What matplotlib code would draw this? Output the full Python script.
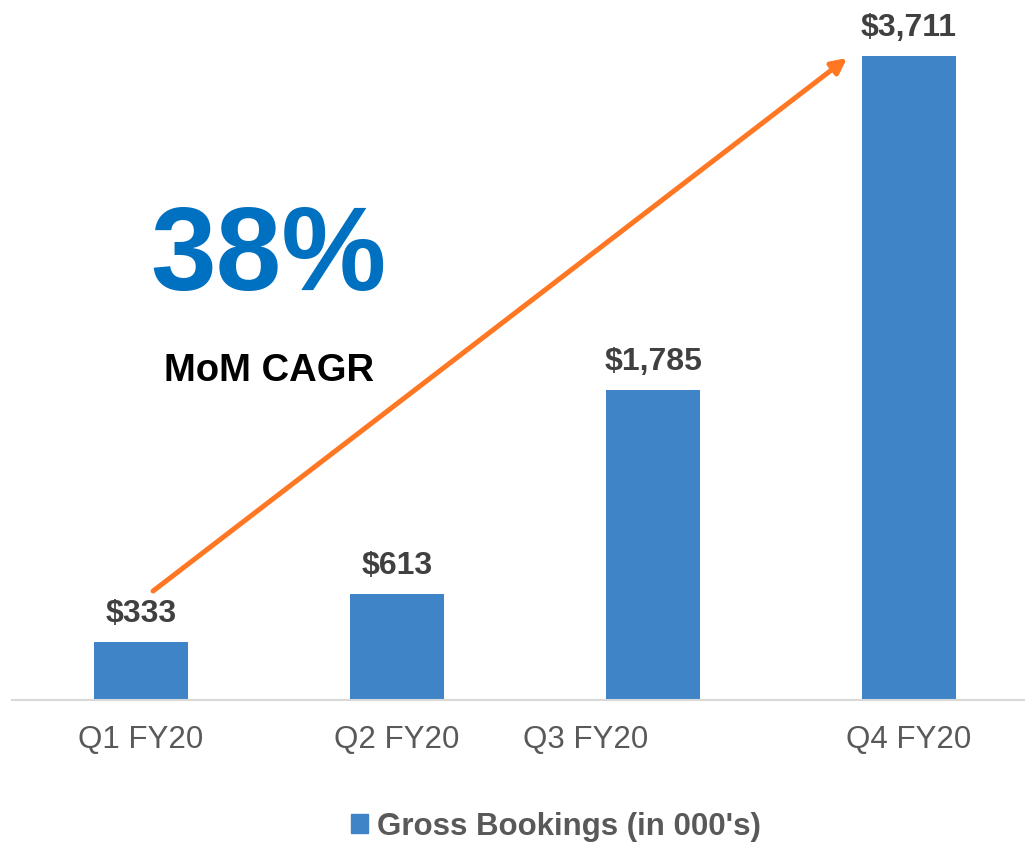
import matplotlib.pyplot as plt
import matplotlib.transforms as mtrans
from matplotlib.patches import Patch

# data
quarters = ['Q1 FY20', 'Q2 FY20', 'Q3 FY20', 'Q4 FY20']
bookings = [333, 613, 1785, 3711]
value_labels = ['$333', '$613', '$1,785', '$3,711']
series_name = "Gross Bookings (in 000's)"
cagr_text = '38%'
cagr_label = 'MoM CAGR'

bar_color = '#3E84C6'
plt.rcParams['font.family'] = ['Liberation Sans', 'DejaVu Sans']

fig = plt.figure(figsize=(10.25, 8.45), dpi=100)
ax = fig.add_axes([12 / 1025, 144 / 845, 1013 / 1025, 701 / 845])

x = range(len(quarters))
ax.bar(x, bookings, width=0.367, color=bar_color, zorder=2)
ax.set_xlim(-0.504, 3.453)
ax.set_ylim(0, 4040)

# value labels above bars
for xi, v, lab in zip(x, bookings, value_labels):
    ax.annotate(lab, (xi, v), xytext=(0, 15), textcoords='offset points',
                ha='center', va='baseline', fontsize=23, fontweight='bold',
                color='#404040')

# axes styling
for s in ['top', 'right', 'left']:
    ax.spines[s].set_visible(False)
ax.spines['bottom'].set_color('#D9D9D9')
ax.spines['bottom'].set_linewidth(1.5)
ax.set_yticks([])
ax.set_xticks(list(x))
ax.set_xticklabels(quarters, fontsize=22.5, color='#595959')
ax.tick_params(axis='x', length=0, pad=17)
# Q3 label sits a little left of its bar in the original
q3 = ax.get_xticklabels()[2]
q3.set_transform(q3.get_transform() + mtrans.ScaledTranslation(-67 / 100, 0, fig.dpi_scale_trans))

# growth arrow
ax.annotate('', xy=(2.758, 3700), xytext=(0.047, 628),
            arrowprops=dict(arrowstyle='-|>,head_length=0.9,head_width=0.45',
                            color='#FF7722', lw=3.6, shrinkA=0, shrinkB=0))

ax.text(0.498, 2545, cagr_text, ha='center', va='center', fontsize=85,
        fontweight='bold', color='#0070C0')
ax.text(0.5, 1900, cagr_label, ha='center', va='center', fontsize=27.5,
        fontweight='bold', color='black')

fig.legend(handles=[Patch(color=bar_color, label=series_name)],
           loc='center', bbox_to_anchor=(0.5425, 0.021), frameon=False,
           prop={'size': 22.5, 'weight': 'bold'}, labelcolor='#595959',
           handlelength=0.54, handleheight=0.54, handletextpad=0.29,
           borderpad=0)

fig.savefig('out.png', dpi=100)
